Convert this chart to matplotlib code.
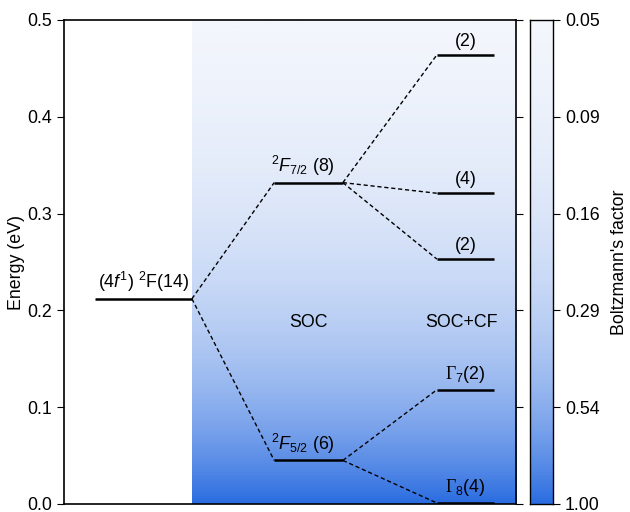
import numpy as np
import matplotlib
matplotlib.use("Agg")
import matplotlib.pyplot as plt
from matplotlib.colors import LinearSegmentedColormap

plt.rcParams["font.family"] = ["Liberation Sans", "DejaVu Sans"]
plt.rcParams["mathtext.fontset"] = "custom"
plt.rcParams["mathtext.rm"] = "Liberation Sans"
plt.rcParams["mathtext.it"] = "Liberation Sans:italic"
plt.rcParams["mathtext.sf"] = "Liberation Serif"

# energy levels (eV)
e_free = 0.212
e_soc = [0.332, 0.045]
soc_labels = [r"$^2$$F_{7/2}$ (8)", r"$^2$$F_{5/2}$ (6)"]
e_cf = [0.464, 0.321, 0.253, 0.118, 0.001]
cf_labels = ["(2)", "(4)", "(2)", r"$\mathsf{\Gamma}_7$(2)", r"$\mathsf{\Gamma}_8$(4)"]
cf_parent = [0, 0, 0, 1, 1]

# colorbar: Boltzmann's factor labels at energy ticks
cbar_energy = [0.5, 0.4, 0.3, 0.2, 0.1, 0.0]
cbar_labels = ["0.05", "0.09", "0.16", "0.29", "0.54", "1.00"]
kT = 0.5 / np.log(20)

cmap = LinearSegmentedColormap.from_list("bz", ["#f3f6fc", "#2a6ce0"])
fs = 12.8

fig = plt.figure(figsize=(6.3, 5.12), dpi=100)
ax = fig.add_axes([64 / 630, 8 / 512, 452 / 630, 484 / 512])
cax = fig.add_axes([530 / 630, 8 / 512, 23 / 630, 484 / 512])

# gradient background
E = np.linspace(0, 0.5, 400)
fac = (np.exp(-E / kT) - 0.05) / 0.95
grad = fac[:, None]
ax.imshow(grad, extent=[0.283, 1.0, 0, 0.5], origin="lower", aspect="auto",
          cmap=cmap, vmin=0, vmax=1, zorder=0)
cax.imshow(grad, extent=[0, 1, 0, 0.5], origin="lower", aspect="auto",
           cmap=cmap, vmin=0, vmax=1)

# level positions (axes x coordinates 0..1)
free_x = (0.069, 0.283)
soc_x = (0.465, 0.617)
cf_x = (0.825, 0.951)
lw = 1.8
dash = dict(color="black", lw=1.0, ls=(0, (3, 2)))

ax.plot(free_x, [e_free, e_free], color="black", lw=lw, solid_capstyle="butt")
ax.text(sum(free_x) / 2, e_free + 0.005, r"(4$f^1$) $^2$F(14)", ha="center",
        va="bottom", fontsize=fs)

for e, lab in zip(e_soc, soc_labels):
    ax.plot(soc_x, [e, e], color="black", lw=lw, solid_capstyle="butt")
    ax.plot([free_x[1], soc_x[0]], [e_free, e], **dash)
    ax.text(sum(soc_x) / 2 - 0.012, e + 0.005, lab, ha="center", va="bottom",
            fontsize=fs)

for e, lab, p in zip(e_cf, cf_labels, cf_parent):
    ax.plot(cf_x, [e, e], color="black", lw=lw, solid_capstyle="butt")
    ax.plot([soc_x[1], cf_x[0]], [e_soc[p], e], **dash)
    ax.text(sum(cf_x) / 2, e + 0.005, lab, ha="center", va="bottom", fontsize=fs)

ax.text(0.540, 0.188, "SOC", ha="center", va="center", fontsize=fs)
ax.text(0.880, 0.188, "SOC+CF", ha="center", va="center", fontsize=fs)

ax.set_xlim(0, 1)
ax.set_ylim(0, 0.5)
ax.set_xticks([])
ax.set_yticks(np.arange(0, 0.51, 0.1))
ax.set_yticklabels([f"{v:.1f}" for v in np.arange(0, 0.51, 0.1)])
ax.tick_params(axis="y", direction="out", length=5, labelsize=fs,
               right=True, labelright=False)
ax.set_ylabel("Energy (eV)", fontsize=fs)
ax.yaxis.set_label_coords(-0.086, 0.5)
for s in ax.spines.values():
    s.set_linewidth(1.2)

cax.set_xticks([])
cax.set_ylim(0, 0.5)
cax.yaxis.tick_right()
cax.set_yticks(cbar_energy)
cax.set_yticklabels(cbar_labels)
cax.tick_params(axis="y", direction="out", length=5, labelsize=fs)
cax.yaxis.set_label_position("right")
cax.set_ylabel("Boltzmann's factor", fontsize=fs, labelpad=8)
for s in cax.spines.values():
    s.set_linewidth(1.0)

fig.savefig("out.png", dpi=100)
